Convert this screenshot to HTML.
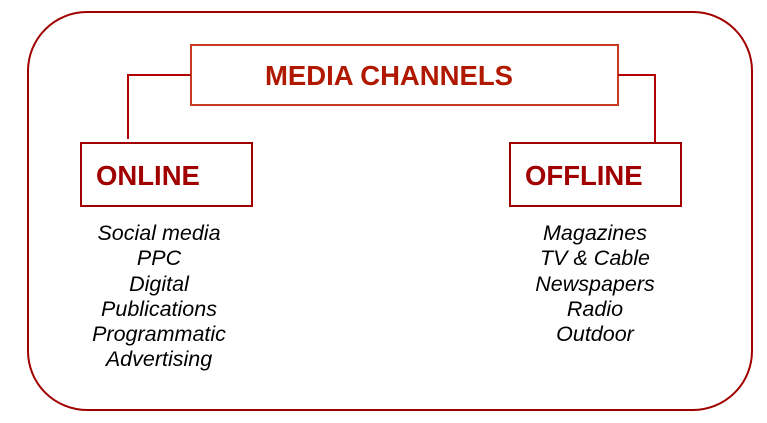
<!DOCTYPE html>
<html><head><style>
body{margin:0;width:767px;height:423px;background:#fff;position:relative;overflow:hidden;font-family:"Liberation Sans",Arial,sans-serif}
div{position:absolute;box-sizing:border-box}
.b{font-weight:bold;font-size:27.5px;line-height:32px;color:#a00000}
.l{font-style:italic;font-size:21.5px;line-height:25.3px;color:#000;text-align:center;width:200px}
</style></head><body>
<div style="left:27px;top:11px;width:726px;height:400px;border:2px solid #a00000;border-radius:60px"></div>
<div style="left:190px;top:44px;width:429px;height:62px;border:2px solid #c83a22"></div>
<div class="b" style="left:189px;top:60px;width:400px;text-align:center;color:#b01800">MEDIA CHANNELS</div>
<div style="left:127px;top:74px;width:64px;height:2px;background:#b00000"></div>
<div style="left:127px;top:74px;width:2px;height:65px;background:#b00000"></div>
<div style="left:618px;top:74px;width:38px;height:2px;background:#b00000"></div>
<div style="left:654px;top:74px;width:2px;height:68px;background:#b00000"></div>
<div style="left:80px;top:142px;width:173px;height:65px;border:2px solid #a00000"></div>
<div class="b" style="left:96px;top:160px">ONLINE</div>
<div style="left:509px;top:142px;width:173px;height:65px;border:2px solid #a00000"></div>
<div class="b" style="left:525px;top:160px">OFFLINE</div>
<div class="l" style="left:59px;top:221px">Social media<br>PPC<br>Digital<br>Publications<br>Programmatic<br>Advertising</div>
<div class="l" style="left:495px;top:221px">Magazines<br>TV &amp; Cable<br>Newspapers<br>Radio<br>Outdoor</div>
</body></html>
